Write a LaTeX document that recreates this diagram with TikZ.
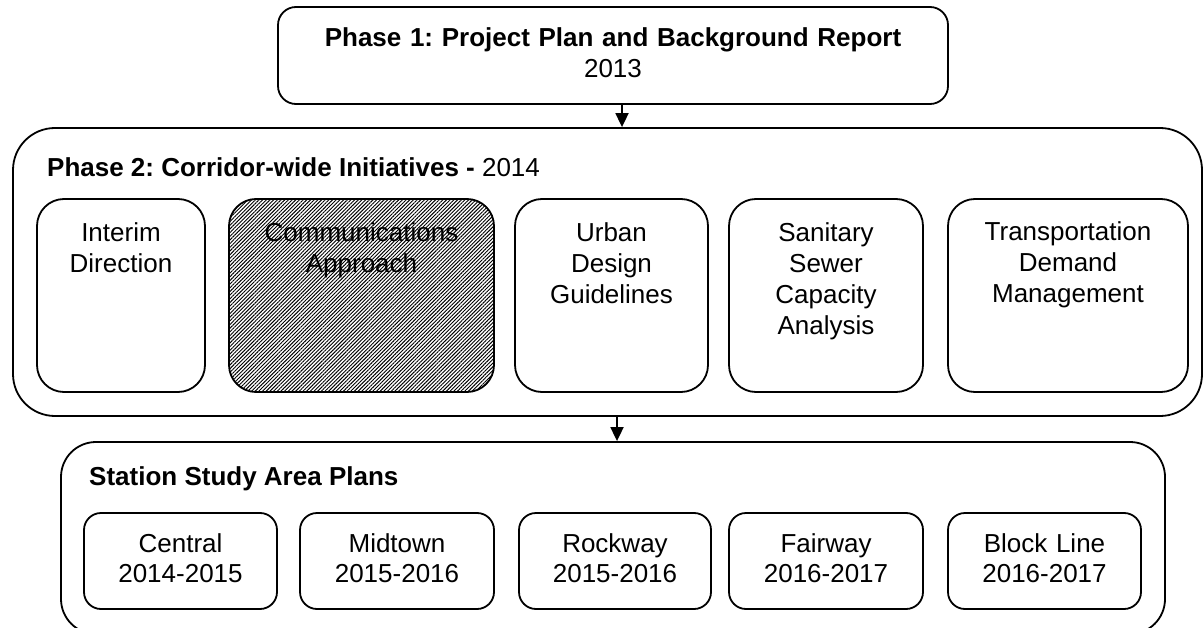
\documentclass[tikz,border=0pt]{standalone}
\usepackage{fontspec}
\setmainfont{Liberation Sans}
\usetikzlibrary{arrows.meta,patterns.meta}
\frenchspacing
\begin{document}
\begin{tikzpicture}[x=1pt,y=-1pt,
  every node/.style={font=\fontsize{26}{30.7}\selectfont},
  frame/.style={draw, line width=1.8pt, rounded corners=#1, inner sep=0pt},
  lbl/.style={text width=#1, align=center, inner sep=0pt, anchor=base},
  arr/.style={line width=1.8pt, -{Triangle[length=14pt,width=13pt]}},
  hatch/.style={pattern={Lines[angle=45,distance=2.6pt,line width=0.95pt]}, pattern color=black}
]
\useasboundingbox (0,0) rectangle (1204,628);
\clip (0,0) rectangle (1204,628);

% ---- Phase 1 ----
\node[frame=18, minimum width=670pt, minimum height=97pt] (p1) at (613,55.5) {};
\node[lbl=650pt] (p1t) at (613,47) {\textbf{Phase 1: Project Plan and Background Report}\\2013};

% ---- Phase 2 ----
\node[frame=42, minimum width=1189pt, minimum height=288pt] (p2) at (607.5,272) {};
\node[anchor=base west, inner sep=0pt] (p2t) at (47,177) {\textbf{Phase 2: Corridor-wide Initiatives -} 2014};

\node[frame=27, minimum width=168pt, minimum height=193pt] (a1) at (121,295.5) {};
\node[frame=27, hatch, minimum width=265pt, minimum height=193pt] (a2) at (361.5,295.5) {};
\node[frame=27, minimum width=193pt, minimum height=193pt] (a3) at (611.5,295.5) {};
\node[frame=27, minimum width=194pt, minimum height=193pt] (a4) at (826,295.5) {};
\node[frame=27, minimum width=240pt, minimum height=193pt] (a5) at (1068,295.5) {};

\node[lbl=160pt] (a1t) at (121,242) {Interim\\Direction};
\node[lbl=250pt] (a2t) at (361.5,242) {Communications\\Approach};
\node[lbl=185pt] (a3t) at (611.5,242) {Urban\\Design\\Guidelines};
\node[lbl=185pt] (a4t) at (826,242) {Sanitary\\Sewer\\Capacity\\Analysis};
\node[lbl=230pt] (a5t) at (1068,241) {Transportation\\Demand\\Management};

% ---- Station study area plans ----
\node[frame=35, minimum width=1104pt, minimum height=192pt] (st) at (613,538) {};
\node[anchor=base west, inner sep=0pt] (stt) at (89,485) {\textbf{Station Study Area Plans}};

\node[frame=17, minimum width=193pt, minimum height=96pt] (s1) at (180.5,561) {};
\node[frame=17, minimum width=194pt, minimum height=96pt] (s2) at (397,561) {};
\node[frame=17, minimum width=192pt, minimum height=96pt] (s3) at (615,561) {};
\node[frame=17, minimum width=194pt, minimum height=96pt] (s4) at (826,561) {};
\node[frame=17, minimum width=193pt, minimum height=96pt] (s5) at (1044.5,561) {};

\node[lbl=185pt] (s1t) at (180.5,552) {Central\\2014-2015};
\node[lbl=185pt] (s2t) at (397,552) {Midtown\\2015-2016};
\node[lbl=185pt] (s3t) at (615,552) {Rockway\\2015-2016};
\node[lbl=185pt] (s4t) at (826,552) {Fairway\\2016-2017};
\node[lbl=185pt] (s5t) at (1044.5,552) {Block Line\\2016-2017};

% ---- connectors ----
\draw[arr] ([xshift=9pt]p1.south) -- ([xshift=9pt]p1.south |- p2.north);
\draw[arr] ([xshift=9.5pt]p2.south) -- ([xshift=9.5pt]p2.south |- st.north);
\end{tikzpicture}
\end{document}
